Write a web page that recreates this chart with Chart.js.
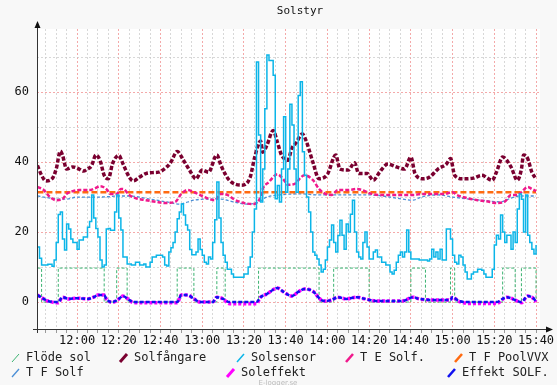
<!DOCTYPE html>
<html>
<head>
<meta charset="utf-8">
<script src="https://cdn.jsdelivr.net/npm/chart.js@4"></script>
<style>
  html, body { margin: 0; padding: 0; background: #f8f8f8; }
  #wrap { width: 557px; height: 385px; position: relative; }
</style>
</head>
<body>
<div id="wrap"><canvas id="solChart"></canvas></div>
<script>
const xTickLabels = ['12:00', '12:20', '12:40', '13:00', '13:20', '13:40', '14:00', '14:20', '14:40', '15:00', '15:20', '15:40'];
const yTickLabels = [0, 20, 40, 60];

// Flöde sol (steps between off and on)
const flodeTimes = ['11:41', '11:43', '11:51', '12:13', '12:19', '12:24', '12:48', '12:56', '13:07', '13:11', '13:27', '13:56', '14:03', '14:20', '14:40', '14:47', '14:59', '15:01', '15:24', '15:30', '15:33', '15:40'];
const flodeValues = [9.7, 0, 9.7, 0, 9.7, 0, 9.7, 0, 9.7, 0, 9.7, 0, 9.7, 0, 9.7, 0, 9.7, 0, 9.7, 0, 9.7, 0];

// Solfångare
const solfTimes = ['11:41', '11:43', '11:45', '11:48', '11:50', '11:52', '11:53', '11:55', '11:58', '12:01', '12:03', '12:05', '12:07', '12:09', '12:11', '12:13', '12:15', '12:17', '12:20', '12:22', '12:25', '12:27', '12:30', '12:33', '12:37', '12:39', '12:43', '12:45', '12:48', '12:51', '12:54', '12:57', '13:00', '13:03', '13:07', '13:09', '13:13', '13:19', '13:23', '13:25', '13:28', '13:29', '13:31', '13:34', '13:36', '13:38', '13:41', '13:43', '13:45', '13:48', '13:50', '13:53', '13:56', '14:00', '14:04', '14:06', '14:10', '14:13', '14:15', '14:19', '14:22', '14:25', '14:29', '14:33', '14:37', '14:40', '14:42', '14:46', '14:49', '14:53', '14:57', '14:59', '15:01', '15:05', '15:10', '15:14', '15:19', '15:21', '15:24', '15:28', '15:31', '15:33', '15:34', '15:36', '15:38', '15:40'];
const solfValues = [39, 36.2, 34.6, 35.2, 38, 43.1, 42, 38, 38.6, 38, 37.4, 38, 39, 42, 40.5, 36.2, 35.2, 39.5, 41.9, 39.5, 35.7, 34.6, 35.7, 36.7, 37, 37.1, 38.6, 40, 43, 40.5, 37.6, 35.2, 37.7, 37.1, 42, 39, 34.8, 33.4, 35.7, 41, 46, 42.8, 44.8, 49, 45.7, 42, 40.5, 44, 45.5, 48, 45.7, 40, 35.2, 36.5, 42, 38, 37.7, 39.8, 36.7, 36.7, 34.8, 37.1, 39.4, 38.6, 38, 41.4, 36.7, 35.2, 35.7, 38, 39.4, 41, 36.2, 35.2, 35.4, 36.2, 34.8, 37.1, 41.4, 38.6, 34.8, 38, 42, 41, 37.1, 35.2];

// Solsensor
const sensorTimes = ['11:41', '11:42', '11:43', '11:46', '11:48', '11:49', '11:50', '11:51', '11:52', '11:53', '11:54', '11:55', '11:56', '11:57', '11:58', '12:00', '12:01', '12:03', '12:05', '12:06', '12:07', '12:08', '12:09', '12:10', '12:11', '12:12', '12:13', '12:14', '12:15', '12:16', '12:18', '12:19', '12:20', '12:21', '12:22', '12:24', '12:26', '12:28', '12:30', '12:32', '12:33', '12:35', '12:36', '12:38', '12:41', '12:42', '12:43', '12:44', '12:45', '12:46', '12:47', '12:48', '12:49', '12:50', '12:51', '12:52', '12:53', '12:54', '12:55', '12:57', '12:58', '12:59', '13:00', '13:01', '13:02', '13:03', '13:04', '13:05', '13:06', '13:07', '13:08', '13:09', '13:10', '13:11', '13:12', '13:14', '13:15', '13:18', '13:20', '13:22', '13:23', '13:24', '13:25', '13:26', '13:27', '13:28', '13:29', '13:30', '13:31', '13:32', '13:34', '13:35', '13:36', '13:37', '13:38', '13:39', '13:40', '13:41', '13:42', '13:43', '13:44', '13:45', '13:46', '13:47', '13:48', '13:49', '13:50', '13:51', '13:52', '13:53', '13:54', '13:55', '13:56', '13:57', '13:58', '13:59', '14:00', '14:01', '14:02', '14:03', '14:04', '14:05', '14:06', '14:07', '14:08', '14:09', '14:10', '14:11', '14:12', '14:13', '14:14', '14:15', '14:16', '14:17', '14:18', '14:19', '14:20', '14:22', '14:23', '14:24', '14:26', '14:28', '14:30', '14:31', '14:32', '14:33', '14:34', '14:35', '14:36', '14:37', '14:38', '14:39', '14:40', '14:44', '14:48', '14:49', '14:50', '14:51', '14:52', '14:53', '14:54', '14:55', '14:57', '14:59', '15:00', '15:01', '15:02', '15:03', '15:04', '15:05', '15:06', '15:07', '15:09', '15:10', '15:12', '15:14', '15:15', '15:16', '15:18', '15:19', '15:20', '15:21', '15:22', '15:23', '15:24', '15:25', '15:26', '15:28', '15:29', '15:30', '15:31', '15:32', '15:33', '15:34', '15:35', '15:36', '15:37', '15:38', '15:39', '15:40'];
const sensorValues = [15.7, 12.5, 10.6, 10.8, 10.2, 12, 17, 25, 25.7, 18, 14.9, 22.3, 20.9, 18, 17, 15.1, 17.7, 18.6, 21.4, 23, 30.6, 24, 21, 18.6, 12, 10, 10.6, 20.9, 21, 20.5, 25.7, 30.6, 24, 20.6, 12.9, 10.9, 10.6, 11.4, 10.6, 10.9, 10, 11.4, 12.9, 13.4, 12.9, 10.6, 10.3, 14.3, 15.5, 17, 20, 23.8, 25.7, 28, 24.9, 22, 20.6, 15, 13.5, 14.3, 18, 15, 13.4, 11.4, 10.9, 12.9, 12.3, 17, 23.5, 34.3, 24, 17, 13.4, 11.4, 9.4, 8, 7.1, 7.1, 8, 10, 12.9, 20, 26.6, 68.6, 47.7, 28.6, 38, 55.2, 70.6, 69, 64.8, 29.5, 33.3, 28.6, 38, 52.9, 31.4, 38, 56.5, 50.6, 38, 31.4, 59, 62.9, 42.9, 36.2, 30, 25.7, 20, 14.3, 13.4, 12.3, 10.6, 8.6, 9.4, 12, 15.7, 17.7, 22, 17, 14.3, 19, 23.4, 19.1, 15.1, 22.3, 20, 25.1, 29.1, 20, 14.3, 12.9, 12.3, 17, 20, 15.7, 12.3, 14.3, 14.9, 12.9, 11.4, 10.6, 8.6, 8, 9.1, 11.4, 13.4, 14.3, 12.9, 14.3, 20.6, 14.3, 12.3, 12, 11.7, 12.3, 15.1, 12.9, 14.3, 12.3, 15.1, 12, 20.9, 18, 13.4, 11.4, 10.9, 13.4, 12.9, 10.6, 8.6, 6.6, 8, 8.6, 9.4, 9.1, 8, 7.1, 7.1, 9.4, 16.3, 19.1, 18, 24.9, 20, 17, 19.1, 15.1, 20, 17, 26.6, 30.9, 29.4, 20, 30.6, 19.1, 17, 15.1, 13.7, 16.3];

// T E Solf.
const teTimes = ['11:41', '11:44', '11:47', '11:50', '11:53', '11:55', '11:58', '12:01', '12:06', '12:09', '12:11', '12:14', '12:16', '12:19', '12:21', '12:22', '12:25', '12:28', '12:33', '12:38', '12:42', '12:47', '12:50', '12:53', '12:56', '13:01', '13:06', '13:09', '13:12', '13:16', '13:20', '13:24', '13:28', '13:29', '13:32', '13:36', '13:39', '13:41', '13:44', '13:49', '13:53', '13:56', '13:59', '14:02', '14:05', '14:10', '14:14', '14:18', '14:20', '14:25', '14:34', '14:42', '14:45', '14:56', '15:00', '15:02', '15:07', '15:12', '15:17', '15:21', '15:25', '15:28', '15:31', '15:33', '15:36', '15:38', '15:40'];
const teValues = [32.9, 32, 30, 29.1, 29.4, 30.9, 31.7, 32, 32, 32.6, 33.1, 32.3, 30.9, 30.9, 32.3, 32.3, 30.6, 29.7, 29.1, 28.6, 28.3, 28.6, 30.9, 32, 31.4, 30, 29.1, 30.9, 30.6, 29.1, 28.3, 28, 30, 32.3, 34.3, 36.5, 35, 33.5, 33.7, 36.2, 34.9, 32.3, 30.9, 30.6, 32, 32, 32.3, 31.7, 31.1, 30.6, 30.6, 30.6, 30.9, 30.9, 31.4, 30.6, 29.7, 29.1, 28.7, 28.3, 28.7, 30.6, 30.6, 31.4, 32.9, 32.3, 31.7];

// T F PoolVVX
const poolTimes = ['11:41', '15:40'];
const poolValues = [31.4, 31.4];

// T F Solf
const tfTimes = ['11:41', '11:47', '11:51', '11:55', '12:00', '12:11', '12:21', '12:25', '12:35', '12:43', '12:49', '12:56', '13:02', '13:09', '13:15', '13:21', '13:26', '13:31', '13:37', '13:48', '13:55', '14:20', '14:30', '14:36', '14:41', '14:45', '14:53', '15:00', '15:08', '15:17', '15:23', '15:28', '15:32', '15:40'];
const tfValues = [30.3, 29.7, 29.4, 29.4, 30, 30, 30.3, 30.3, 29.4, 28.6, 28, 29.1, 29.4, 29.4, 28.6, 28, 28.3, 30, 30.6, 30.9, 30.6, 30.6, 30, 29.4, 29.1, 30, 30.6, 30, 29.4, 28.9, 28.6, 29.7, 30.3, 30.3];

// Soleffekt and Effekt SOLF. share their times
const effTimes = ['11:41', '11:44', '11:46', '11:51', '11:53', '11:56', '12:00', '12:05', '12:08', '12:10', '12:13', '12:14', '12:17', '12:20', '12:22', '12:25', '12:27', '12:48', '12:50', '12:53', '12:56', '12:59', '13:05', '13:07', '13:10', '13:13', '13:26', '13:28', '13:31', '13:36', '13:39', '13:43', '13:46', '13:49', '13:53', '13:57', '13:59', '14:02', '14:05', '14:09', '14:14', '14:18', '14:24', '14:36', '14:41', '14:44', '14:53', '14:59', '15:00', '15:03', '15:08', '15:21', '15:26', '15:30', '15:33', '15:36', '15:39', '15:40'];
const soleffektValues = [2, 0.9, 0.3, -0.2, 1.4, 0.9, 1.1, 0.9, 1.4, 2, 2, 0.9, -0.1, 0.9, 1.7, 0.6, -0.2, -0.2, 2, 2, 0.9, 0, 0, 1.4, 0.9, -0.5, -0.5, 1.4, 2.3, 4, 2.9, 1.7, 2.9, 3.7, 3.1, 0.6, 0.3, 0.6, 1.4, 0.9, 1.4, 0.9, 0.3, 0.3, 1.4, 0.9, 0.6, 0.6, 1.4, 0.2, -0.4, -0.4, 1.4, 0.6, -0.2, 1.7, 0.9, 0];
const effektValues = [2, 0.9, 0.3, 0, 1.4, 0.9, 1.1, 0.9, 1.4, 2, 2, 0.9, 0, 0.9, 1.7, 0.6, 0, 0, 2, 2, 0.9, 0, 0, 1.4, 0.9, 0, 0, 1.4, 2.3, 4, 2.9, 1.7, 2.9, 3.7, 3.1, 0.6, 0.3, 0.6, 1.4, 0.9, 1.4, 0.9, 0.3, 0.3, 1.4, 0.9, 0.6, 0.6, 1.4, 0.3, 0, 0, 1.4, 0.6, 0, 1.7, 0.9, 0];

const legendSlots = [[12, 358], [120, 358], [237, 358], [346, 358], [455, 358], [12, 373], [227, 373], [448, 373]];

function toMin(t) {
  const [h, m] = t.split(':').map(Number);
  return h * 60 + m;
}

function pts(times, values) {
  return times.map((t, i) => ({ x: toMin(t), y: values[i] }));
}

const MONO = '"DejaVu Sans Mono", monospace';
Chart.defaults.font.family = MONO;
Chart.defaults.font.size = 12;
Chart.defaults.color = '#111';

const RED_GRID = 'rgba(240,140,140,0.75)';
const GRAY_GRID = 'rgba(200,200,200,0.7)';

const bgPlugin = {
  id: 'bg',
  beforeDraw(chart) {
    const { ctx, chartArea: a } = chart;
    ctx.save();
    ctx.fillStyle = '#f8f8f8';
    ctx.fillRect(0, 0, chart.width, chart.height);
    ctx.fillStyle = '#ffffff';
    ctx.fillRect(a.left, a.top, a.right - a.left, a.bottom - a.top);
    ctx.restore();
  }
};

const decoPlugin = {
  id: 'deco',
  afterDraw(chart) {
    const { ctx, chartArea: a } = chart;
    ctx.save();
    // axes with arrows
    ctx.strokeStyle = '#333';
    ctx.fillStyle = '#111';
    ctx.lineWidth = 1;
    ctx.beginPath();
    ctx.moveTo(a.left + 0.5, a.top - 4);
    ctx.lineTo(a.left + 0.5, a.bottom + 4);
    ctx.moveTo(a.left - 4, a.bottom + 0.5);
    ctx.lineTo(a.right + 8, a.bottom + 0.5);
    ctx.stroke();
    ctx.beginPath();
    ctx.moveTo(a.left + 0.5, a.top - 8);
    ctx.lineTo(a.left - 2.5, a.top - 1);
    ctx.lineTo(a.left + 3.5, a.top - 1);
    ctx.closePath();
    ctx.fill();
    ctx.beginPath();
    ctx.moveTo(a.right + 13, a.bottom + 0.5);
    ctx.lineTo(a.right + 6, a.bottom - 2.5);
    ctx.lineTo(a.right + 6, a.bottom + 3.5);
    ctx.closePath();
    ctx.fill();

    // title
    ctx.font = '11px ' + MONO;
    ctx.fillStyle = '#111';
    ctx.textAlign = 'center';
    ctx.textBaseline = 'middle';
    ctx.fillText('Solstyr', 300, 11);

    // legend
    ctx.font = '12px ' + MONO;
    ctx.textAlign = 'left';
    chart.data.datasets.forEach((ds, i) => {
      const [x, y] = legendSlots[i];
      ctx.strokeStyle = ds.borderColor;
      ctx.lineWidth = Math.min(ds.borderWidth, 3);
      ctx.setLineDash([]);
      ctx.beginPath();
      ctx.moveTo(x, y + 4);
      ctx.lineTo(x + 7, y - 4);
      ctx.stroke();
      ctx.fillStyle = '#222';
      ctx.fillText(ds.label, x + 14, y);
    });

    // footer
    ctx.font = '7px "DejaVu Sans", sans-serif';
    ctx.fillStyle = '#bbb';
    ctx.textAlign = 'center';
    ctx.fillText('E-logger.se', 278, 383);
    ctx.restore();
  }
};

const ctx = document.getElementById('solChart');
new Chart(ctx, {
  type: 'line',
  data: {
    datasets: [
      {
        label: 'Flöde sol',
        data: pts(flodeTimes, flodeValues),
        borderColor: '#3cb371',
        borderWidth: 1,
        borderDash: [3, 2],
        stepped: true,
        order: 7
      },
      {
        label: 'Solfångare',
        data: pts(solfTimes, solfValues),
        borderColor: '#7a0030',
        borderWidth: 3.5,
        borderDash: [4, 2],
        cubicInterpolationMode: 'monotone',
        order: 4
      },
      {
        label: 'Solsensor',
        data: pts(sensorTimes, sensorValues),
        borderColor: '#0bb5e8',
        borderWidth: 1.5,
        stepped: true,
        order: 2
      },
      {
        label: 'T E Solf.',
        data: pts(teTimes, teValues),
        borderColor: '#f0198c',
        borderWidth: 2.5,
        borderDash: [4, 2],
        cubicInterpolationMode: 'monotone',
        order: 3
      },
      {
        label: 'T F PoolVVX',
        data: pts(poolTimes, poolValues),
        borderColor: '#ff6a10',
        borderWidth: 2.5,
        borderDash: [6, 3],
        order: 5
      },
      {
        label: 'T F Solf',
        data: pts(tfTimes, tfValues),
        borderColor: '#4b8fd6',
        borderWidth: 1.3,
        borderDash: [3, 2],
        cubicInterpolationMode: 'monotone',
        order: 6
      },
      {
        label: 'Soleffekt',
        data: pts(effTimes, soleffektValues),
        borderColor: '#ff00ff',
        borderWidth: 3.5,
        borderDash: [3, 2],
        cubicInterpolationMode: 'monotone',
        order: 1
      },
      {
        label: 'Effekt SOLF.',
        data: pts(effTimes, effektValues),
        borderColor: '#1010f0',
        borderWidth: 2.5,
        borderDash: [4, 2],
        cubicInterpolationMode: 'monotone',
        order: 0
      }
    ]
  },
  options: {
    responsive: true,
    maintainAspectRatio: false,
    animation: false,
    events: [],
    elements: { point: { radius: 0 } },
    layout: { padding: { left: 0, right: 17, top: 29, bottom: 36 } },
    plugins: {
      legend: { display: false },
      title: { display: false },
      tooltip: { enabled: false }
    },
    scales: {
      x: {
        type: 'linear',
        min: 700.8,
        max: 941.9,
        afterFit: (scale) => { scale.height = 20; },
        afterBuildTicks: (scale) => {
          const ticks = [];
          for (let v = 705; v <= 940; v += 5) ticks.push({ value: v });
          scale.ticks = ticks;
        },
        ticks: {
          autoSkip: false,
          maxRotation: 0,
          padding: 1,
          color: '#111',
          font: { size: 12 },
          callback: (v) => {
            const i = (v - 720) / 20;
            return Number.isInteger(i) && xTickLabels[i] ? xTickLabels[i] : '';
          }
        },
        grid: {
          color: (c) => (c.tick && c.tick.value % 20 === 0) ? RED_GRID : GRAY_GRID,
          tickColor: '#999',
          tickLength: 4,
          lineWidth: 1
        },
        border: { display: false, dash: [2, 2] }
      },
      y: {
        min: -7.7,
        max: 78,
        afterFit: (scale) => { scale.width = 37; },
        afterBuildTicks: (scale) => {
          scale.ticks = [0, 10, 20, 30, 40, 50, 60, 70].map(v => ({ value: v }));
        },
        ticks: {
          padding: 8,
          color: '#111',
          font: { size: 12 },
          callback: (v) => yTickLabels.includes(v) ? String(v) : ''
        },
        grid: {
          drawTicks: false,
          color: (c) => (c.tick && c.tick.value % 20 === 0) ? RED_GRID : GRAY_GRID,
          lineWidth: 1
        },
        border: { display: false, dash: [2, 2] }
      }
    }
  },
  plugins: [bgPlugin, decoPlugin]
});
</script>
</body>
</html>
